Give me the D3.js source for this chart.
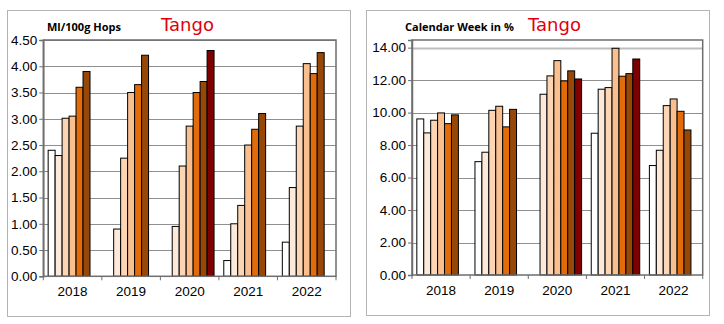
<!DOCTYPE html>
<html><head><meta charset="utf-8">
<script src="https://cdn.jsdelivr.net/npm/d3@7"></script>
<style>body{margin:0;background:#fff}svg{display:block}</style>
</head><body>
<svg id="c" width="724" height="324"></svg>
<script>
const years = ["2018","2019","2020","2021","2022"];
const seriesColors = ["#ffffff","#fde9d9","#fcd5b4","#fabf8f","#e26b0a","#974706","#7f0000"];
// values per year, 7 series (null = missing)
const oilValues = [
  [2.40, 2.30, 3.01, 3.05, 3.60, 3.90, null],
  [null, 0.90, 2.25, 3.50, 3.65, 4.21, null],
  [null, 0.95, 2.10, 2.86, 3.50, 3.71, 4.30],
  [0.30, 1.00, 1.35, 2.50, 2.80, 3.10, null],
  [0.65, 1.69, 2.86, 4.05, 3.86, 4.26, null]
];
const weekValues = [
  [9.61, 8.75, 9.53, 9.98, 9.32, 9.86, null],
  [6.98, 7.56, 10.14, 10.39, 9.12, 10.20, null],
  [null, 11.13, 12.26, 13.20, 11.95, 12.57, 12.07],
  [8.73, 11.44, 11.54, 13.96, 12.24, 12.40, 13.30],
  [6.74, 7.68, 10.43, 10.84, 10.08, 8.93, null]
];
const oilTicks = [0,0.5,1,1.5,2,2.5,3,3.5,4,4.5];
const weekTicks = [0,2,4,6,8,10,12,14];

const svg = d3.select("#c");

function chart(cfg){
  const g = svg.append("g");
  g.append("rect").attr("x",cfg.panel[0]+0.5).attr("y",cfg.panel[1]+0.5)
    .attr("width",cfg.panel[2]-cfg.panel[0]).attr("height",cfg.panel[3]-cfg.panel[1])
    .attr("fill","#fff").attr("stroke","#b4b4b4").attr("stroke-width",1);
  const [L,T,R,B] = cfg.plot;
  const x0 = d3.scaleBand().domain(years).range([L,R]).padding(0);
  const pad = x0.bandwidth()*0.083;
  const x1 = d3.scaleBand().domain(d3.range(7)).range([pad, x0.bandwidth()-pad]).padding(0);
  const y = d3.scaleLinear().domain([0,cfg.ymax]).range([B,T]);
  // gridlines
  g.append("g").selectAll("line").data(cfg.ticks.filter(t=>t>0)).join("line")
    .attr("x1",L).attr("x2",R).attr("y1",d=>Math.round(y(d))+0.5).attr("y2",d=>Math.round(y(d))+0.5)
    .attr("stroke",d=>cfg.lightTop && d===cfg.ticks[cfg.ticks.length-1] ? "#bdbdbd" : "#8f8f8f")
    .attr("stroke-width",d=>cfg.lightTop && d===cfg.ticks[cfg.ticks.length-1] ? 2 : 1);
  // bars
  const grp = g.append("g").selectAll("g").data(cfg.values).join("g")
    .attr("transform",(d,i)=>`translate(${x0(years[i])},0)`);
  grp.selectAll("rect").data(d=>d.map((v,j)=>({v,j})).filter(e=>e.v!==null)).join("rect")
    .attr("x",e=>x1(e.j)).attr("width",x1.bandwidth())
    .attr("y",e=>y(e.v)).attr("height",e=>B-y(e.v))
    .attr("fill",e=>seriesColors[e.j]).attr("stroke","#000").attr("stroke-width",1);
  // plot border
  g.append("rect").attr("x",L).attr("y",T).attr("width",R-L).attr("height",B-T)
    .attr("fill","none").attr("stroke","#6e6e6e").attr("stroke-width",1.5);
  // y axis
  const ya = d3.axisLeft(y).tickValues(cfg.ticks).tickFormat(d3.format(".2f")).tickSize(4).tickPadding(2);
  const yg = g.append("g").attr("transform",`translate(${L},0)`).call(ya);
  yg.select(".domain").attr("stroke","#6e6e6e").attr("stroke-width",1.5);
  yg.selectAll(".tick line").attr("stroke","#6e6e6e");
  yg.selectAll("text").attr("font-family","Liberation Sans, Arial, sans-serif").attr("font-size","13.5px").attr("fill","#000");
  // x axis ticks at boundaries
  const bounds = years.map(yy=>x0(yy)).concat([R]);
  g.append("g").selectAll("line").data(bounds).join("line")
    .attr("x1",d=>d).attr("x2",d=>d).attr("y1",B).attr("y2",B+4).attr("stroke","#6e6e6e");
  g.append("g").selectAll("text").data(years).join("text")
    .attr("x",d=>x0(d)+x0.bandwidth()/2).attr("y",B+20).attr("text-anchor","middle")
    .attr("font-family","Liberation Sans, Arial, sans-serif").attr("font-size","13.5px").text(d=>d);
  // titles
  g.append("text").attr("x",cfg.t1x).attr("y",31).attr("font-family","Open Sans, sans-serif")
    .attr("font-weight","bold").attr("font-size","11px").text(cfg.t1);
  g.append("text").attr("x",cfg.t2x).attr("y",31).attr("font-family","DejaVu Sans, sans-serif")
    .attr("font-size","18px").attr("fill","#e0000b").text("Tango");
}

chart({panel:[7,10,350,316], plot:[43.3,40,336,276.3], ymax:4.5, ticks:oilTicks, values:oilValues,
  t1:"Ml/100g Hops", t1x:47, t2x:161, lightTop:false});
chart({panel:[366,10,709,315], plot:[412,40,702.7,275], ymax:14.47, ticks:weekTicks, values:weekValues,
  t1:"Calendar Week in %", t1x:405, t2x:528, lightTop:true});
</script>
</body></html>
